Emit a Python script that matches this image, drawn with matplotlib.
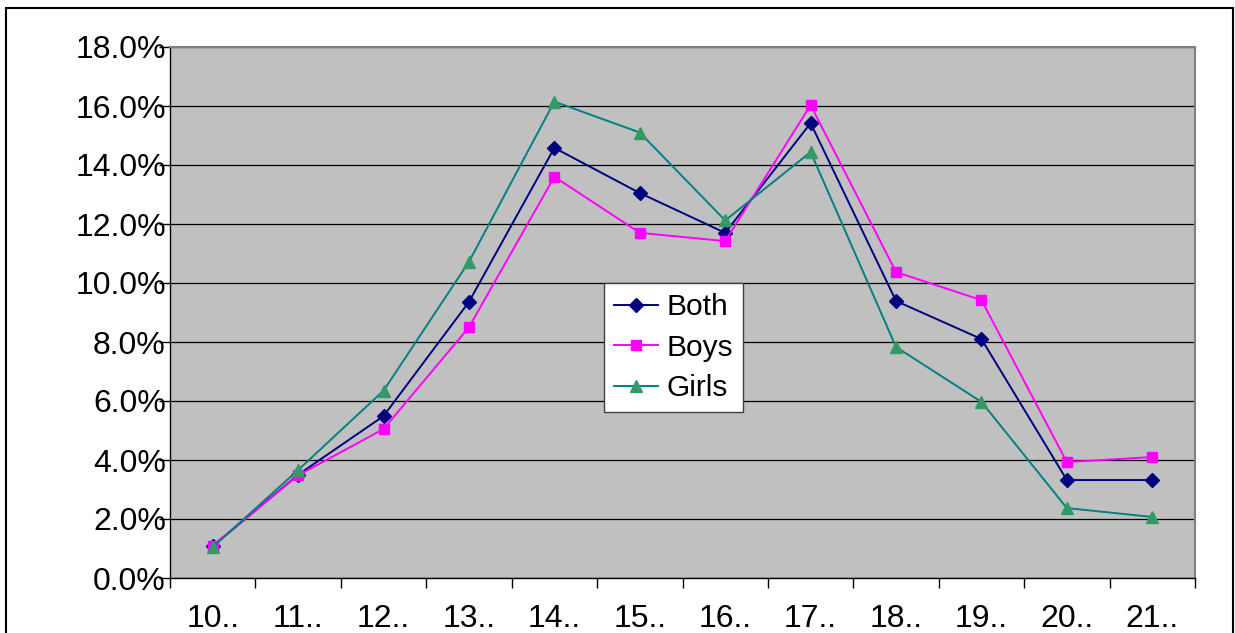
import matplotlib
matplotlib.use("Agg")
import matplotlib.pyplot as plt
from matplotlib.patches import Rectangle
from matplotlib.ticker import FuncFormatter, MultipleLocator

plt.rcParams['font.family'] = ['Liberation Sans', 'DejaVu Sans']

categories = ["10..", "11..", "12..", "13..", "14..", "15..", "16..", "17..", "18..", "19..", "20..", "21.."]
both = [1.08, 3.50, 5.49, 9.36, 14.58, 13.05, 11.70, 15.42, 9.39, 8.10, 3.32, 3.32]
boys = [1.10, 3.48, 5.05, 8.50, 13.60, 11.70, 11.42, 16.03, 10.37, 9.42, 3.93, 4.10]
girls = [1.05, 3.66, 6.35, 10.72, 16.15, 15.10, 12.12, 14.44, 7.83, 5.97, 2.37, 2.07]

fig = plt.figure(figsize=(12.35, 6.33), dpi=100)
fig.patches.append(Rectangle((6/1235, -0.1), (1233-6)/1235, 1.1 - 8/633,
                             transform=fig.transFigure, fill=False,
                             edgecolor='black', linewidth=1.5))

ax = fig.add_axes([170/1235, 1-578/633, (1195-170)/1235, (578-47)/633])
ax.set_facecolor('#C0C0C0')

x = list(range(len(categories)))
ax.plot(x, both, color='#000080', lw=1.4, marker='D', markersize=7,
        markerfacecolor='#000080', markeredgecolor='#000080', label='Both', zorder=3)
ax.plot(x, boys, color='#FF00FF', lw=1.4, marker='s', markersize=7.5,
        markerfacecolor='#FF00FF', markeredgecolor='#FF00FF', label='Boys', zorder=3)
ax.plot(x, girls, color='#008080', lw=1.4, marker='^', markersize=8.5,
        markerfacecolor='#339966', markeredgecolor='#339966', label='Girls', zorder=3)

ax.set_xlim(-0.5, len(categories) - 0.5)
ax.set_ylim(0, 18)
ax.yaxis.set_major_locator(MultipleLocator(2))
ax.yaxis.set_major_formatter(FuncFormatter(lambda v, p: f"{v:.1f}%"))
ax.grid(axis='y', color='black', linewidth=0.9, zorder=1)
ax.set_axisbelow(True)

ax.set_xticks([i - 0.5 for i in range(len(categories) + 1)], minor=False)
ax.set_xticklabels([])
ax.set_xticks(x, minor=True)
ax.set_xticklabels(categories, minor=True)
ax.tick_params(axis='x', which='major', direction='out', length=7, width=1, color='black')
ax.tick_params(axis='x', which='minor', length=0, pad=19, labelsize=23)
ax.tick_params(axis='y', direction='out', length=8, width=1, pad=-5, labelsize=23)

for s in ['top', 'right']:
    ax.spines[s].set_color('#808080')
    ax.spines[s].set_linewidth(1.5)
for s in ['left', 'bottom']:
    ax.spines[s].set_color('black')
    ax.spines[s].set_linewidth(1.0)

leg = ax.legend(loc='center', bbox_to_anchor=(0.4912, 0.434), fontsize=21.5,
                frameon=True, fancybox=False, edgecolor='#404040', facecolor='white',
                framealpha=1, handlelength=1.47, handletextpad=0.27, borderpad=0.33,
                labelspacing=0.42, borderaxespad=0)
leg.get_frame().set_linewidth(1.0)

fig.savefig('out.png', dpi=100)
